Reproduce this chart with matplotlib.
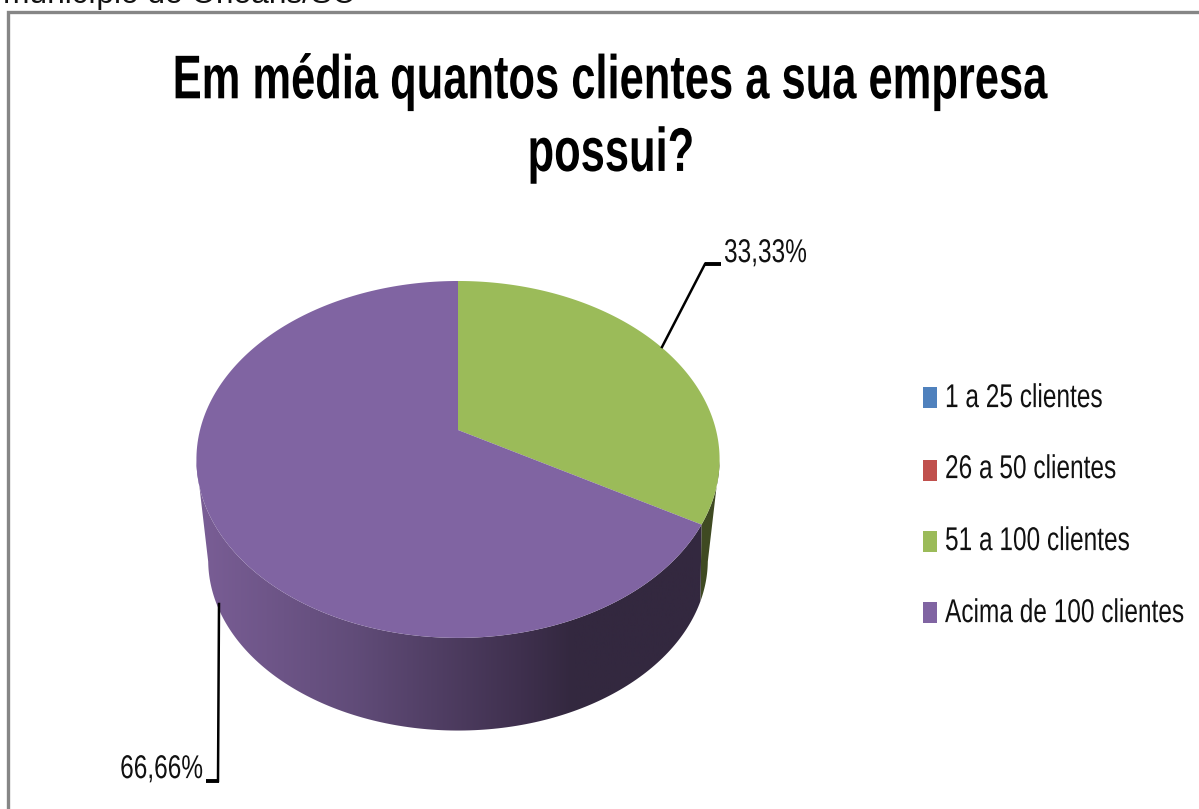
import numpy as np
import matplotlib
matplotlib.use('Agg')
import matplotlib.pyplot as plt
from matplotlib.patches import Polygon, Rectangle
from matplotlib.colors import LinearSegmentedColormap
from matplotlib.patheffects import AbstractPathEffect
from matplotlib.transforms import Affine2D

categories = ['1 a 25 clientes', '26 a 50 clientes', '51 a 100 clientes', 'Acima de 100 clientes']
values = [0, 0, 33.33, 66.66]
value_labels = ['33,33%', '66,66%']
title = 'Em média quantos clientes a sua empresa\npossui?'
caption = 'município de Orleans/SC'

colors = ['#4f81bd', '#c0504d', '#9bbb59', '#8064a2']
H = 809

# pie geometry in pixels, tip of the slices and perspective of the disc
cx, cy = 458, 430
a, c, k = 173.6, 258, -0.165
bottom_scale, bottom_shift = 0.955, 102


class Tall(AbstractPathEffect):
    # the reference text is narrow and tall, no narrow font here so stretch it upwards
    def __init__(self, y, sy):
        super().__init__()
        self.y0 = H - y
        self.sy = sy

    def draw_path(self, renderer, gc, tpath, affine, rgbFace=None):
        stretch = Affine2D().translate(0, -self.y0).scale(1, self.sy).translate(0, self.y0)
        renderer.draw_path(gc, tpath, affine + stretch, rgbFace)


def tall_text(x, y, s, size, sy, **kw):
    t = ax.text(x, y, s, fontsize=size, family='Liberation Sans', va='center', color='#111111', **kw)
    t.set_path_effects([Tall(y, sy)])
    return t


def rim(t):
    # t is the angle clockwise from the top, degrees
    t = np.radians(t)
    X, Y = np.sin(t), -np.cos(t)
    w = 1 + k * Y
    return cx + c * X / w, cy + a * Y / w


def rim_bottom(t):
    x, y = rim(t)
    return cx + bottom_scale * (x - cx), cy + bottom_shift + bottom_scale * (y - cy)


def wall(t_top, t_bottom):
    x1, y1 = rim(t_top)
    x2, y2 = rim_bottom(t_bottom)
    return np.c_[np.r_[x1, x2], np.r_[y1, y2]]


fig = plt.figure(figsize=(11.99, 8.09), dpi=100)
ax = fig.add_axes([0, 0, 1, 1])
ax.set_xlim(0, 1199)
ax.set_ylim(H, 0)
ax.axis('off')

# text cut off by the top of the picture, and the chart frame
ax.text(3, 3, caption, fontsize=22.8, family='Liberation Sans', va='baseline', ha='left', color='#111111')
ax.plot([8, 8, 1199], [H, 12, 12], color='#868686', lw=2.4, solid_joinstyle='miter')

t = ax.text(611, 119, title, fontsize=31.3, fontweight='bold', family='Liberation Sans', ha='center', va='center',
            linespacing=1.36, color='black')
t.set_path_effects([Tall(119, 1.42)])

# slice angles come from the values
fracs = np.array(values) / sum(values)
edges = np.concatenate([[0], np.cumsum(fracs) * 360])
green_end = edges[3]
edge_bottom = green_end - 7

# side wall, only the part facing the viewer
green = wall(np.linspace(100, green_end, 40), np.linspace(edge_bottom, 100, 40))
ax.add_patch(Polygon(green, closed=True, fc='#3f4a22', ec='none', zorder=2))

side = Polygon(wall(np.linspace(green_end, 260, 160), np.linspace(260, edge_bottom, 160)),
               closed=True, fc='none', ec='none')
ax.add_patch(side)
cmap = LinearSegmentedColormap.from_list('side', [(0, '#7a5e96'), (0.3, '#614c79'), (0.62, '#3f304e'),
                                                  (0.72, '#33283f'), (1, '#33283f')])
im = ax.imshow(np.linspace(0, 1, 256)[None, :], cmap=cmap, extent=[196, 720, 740, 400], aspect='auto', zorder=2)
im.set_clip_path(side)
ax.set_xlim(0, 1199)
ax.set_ylim(H, 0)

# top of the disc
for i in range(len(values)):
    if fracs[i] == 0:
        continue
    x, y = rim(np.linspace(edges[i], edges[i + 1], 200))
    ax.fill(np.r_[cx, x], np.r_[cy, y], color=colors[i], lw=0, zorder=3)

# value labels and leader lines
ax.plot([662, 705], [347, 264], color='black', lw=1.8, zorder=4)
ax.plot([705, 721], [264, 264], color='black', lw=2.8, zorder=4, solid_capstyle='butt')
tall_text(724, 254, value_labels[0], 17.6, 1.35, ha='left')
ax.plot([219, 218], [604, 781], color='black', lw=1.8, zorder=4)
ax.plot([219, 206], [781, 781], color='black', lw=2.8, zorder=4, solid_capstyle='butt')
tall_text(203, 770, value_labels[1], 17.6, 1.35, ha='right')

# legend
for cat, col, ytop, ty in zip(categories, colors, [387, 460, 531, 602], [399, 470, 542, 614]):
    ax.add_patch(Rectangle((923, ytop), 14, 21, fc=col, ec='none'))
    tall_text(945, ty, cat, 17.6, 1.35, ha='left')

fig.savefig('out.png', dpi=100, facecolor='white')
